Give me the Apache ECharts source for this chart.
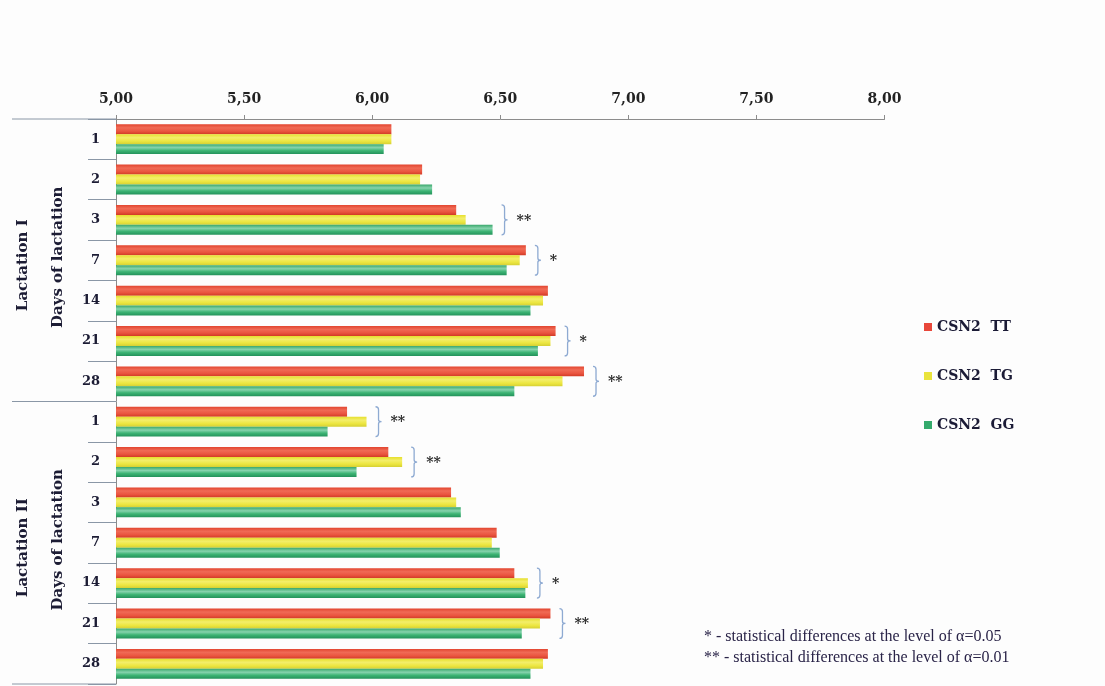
<!DOCTYPE html>
<html>
<head>
<meta charset="utf-8">
<script src="https://cdn.jsdelivr.net/npm/echarts@6/dist/echarts.min.js"></script>
<style>
  html, body { margin: 0; padding: 0; background: #fdfdfd; }
  #chart { width: 1105px; height: 686px; }
</style>
</head>
<body>
<div id="chart"></div>
<script>
// Days of lactation sampled in each lactation
const days = ['1', '2', '3', '7', '14', '21', '28'];
const lactations = ['Lactation I', 'Lactation II'];

// Mean values per genotype, Lactation I days then Lactation II days
const seriesNames = ['CSN2  TT', 'CSN2  TG', 'CSN2  GG'];
const valuesTT = [6.075, 6.195, 6.328, 6.600, 6.686, 6.716, 6.827,
                  5.902, 6.063, 6.308, 6.486, 6.555, 6.696, 6.686];
const valuesTG = [6.075, 6.187, 6.365, 6.576, 6.667, 6.696, 6.743,
                  5.978, 6.117, 6.328, 6.467, 6.608, 6.655, 6.667];
const valuesGG = [6.045, 6.234, 6.470, 6.525, 6.618, 6.647, 6.555,
                  5.826, 5.939, 6.346, 6.498, 6.598, 6.584, 6.618];

// Significance marks: row index (0..13) and marker text
const sigRows  = [2, 3, 5, 6, 7, 8, 11, 12];
const sigMarks = ['**', '*', '*', '**', '**', '**', '*', '**'];

const xTicks = { min: 5, max: 8, interval: 0.5 };

const footnotes = [
  '* - statistical differences at the level of \u03b1=0.05',
  '** - statistical differences at the level of \u03b1=0.01'
];

// ---- layout ----
const G = { left: 116, top: 119, right: 1105 - 884.5, bottom: 2 };
const gridH = 686 - G.top - G.bottom;
const nRows = days.length * lactations.length;
const rowH = gridH / nRows;

const rowKeys = [];
lactations.forEach(l => days.forEach(d => rowKeys.push(l + '|' + d)));

const allSeries = [valuesTT, valuesTG, valuesGG];
const rowMax = i => Math.max(valuesTT[i], valuesTG[i], valuesGG[i]);

function grad(stops) {
  return new echarts.graphic.LinearGradient(0, 0, 0, 1,
    stops.map(s => ({ offset: s[0], color: s[1] })));
}
const fills = [
  grad([[0, '#e2452f'], [0.35, '#f06a55'], [0.7, '#ea5540'], [1, '#d23a26']]),
  grad([[0, '#e6df2c'], [0.35, '#f3ee6a'], [0.7, '#ece640'], [1, '#d6d034']]),
  grad([[0, '#3aa86c'], [0.35, '#86d3ad'], [0.65, '#3db474'], [1, '#23925a']])
];
const solid = ['#e8473a', '#e9e33c', '#34aa6c'];

const serif = 'DejaVu Serif';

const chart = echarts.init(document.getElementById('chart'), null, { renderer: 'canvas' });

const barSeries = seriesNames.map((name, k) => ({
  name: name,
  type: 'bar',
  data: allSeries[k],
  barGap: '0%',
  barCategoryGap: '26%',
  itemStyle: { color: fills[k] },
  silent: true
}));

const bracketSeries = {
  type: 'custom',
  silent: true,
  data: sigRows.map(r => [rowMax(r), r]),
  encode: { x: 0, y: 1 },
  renderItem: function (params, api) {
    const p = api.coord([api.value(0), api.value(1)]);
    const h = rowH * 0.37;
    const x = p[0] + 12, y = p[1];
    const path = 'M' + (x - 3) + ',' + (y - h) +
      ' Q' + x + ',' + (y - h) + ' ' + x + ',' + (y - h + 3) +
      ' L' + x + ',' + (y - 2) +
      ' Q' + x + ',' + y + ' ' + (x + 3) + ',' + y +
      ' Q' + x + ',' + y + ' ' + x + ',' + (y + 2) +
      ' L' + x + ',' + (y + h - 3) +
      ' Q' + x + ',' + (y + h) + ' ' + (x - 3) + ',' + (y + h);
    return {
      type: 'group',
      children: [
        {
          type: 'path',
          shape: { pathData: path },
          style: { stroke: '#8eaad2', lineWidth: 1.3, fill: null }
        },
        {
          type: 'text',
          x: x + 12, y: y + 1,
          style: {
            text: sigMarks[params.dataIndex],
            font: 'bold 14px "' + serif + '"',
            fill: '#2a2a2a',
            textAlign: 'left',
            textVerticalAlign: 'middle'
          }
        }
      ]
    };
  },
  z: 5
};

// separator lines left of the plot between the two lactations
const sepLines = [0, days.length, nRows].map(k => ({
  type: 'line',
  shape: { x1: 12, y1: G.top + k * rowH, x2: G.left, y2: G.top + k * rowH },
  style: { stroke: '#8a97a6', lineWidth: 1 },
  silent: true
}));

const sideTexts = [];
lactations.forEach((l, i) => {
  const cy = G.top + (i * days.length + days.length / 2) * rowH;
  sideTexts.push({
    type: 'text', x: 23, y: cy + 5, rotation: Math.PI / 2,
    style: { text: l, font: 'bold 15px "' + serif + '"', fill: '#1c1c34',
             textAlign: 'center', textVerticalAlign: 'middle' }
  });
  sideTexts.push({
    type: 'text', x: 58, y: cy - 3, rotation: Math.PI / 2,
    style: { text: 'Days of lactation', font: 'bold 15px "' + serif + '"', fill: '#1c1c34',
             textAlign: 'center', textVerticalAlign: 'middle' }
  });
});

const noteTexts = footnotes.map((t, i) => ({
  type: 'text', left: 704, top: 629 + i * 21,
  style: { text: t, font: '16px "Liberation Serif"', fill: '#2a2448' }
}));

chart.setOption({
  backgroundColor: '#fdfdfd',
  animation: false,
  grid: { left: G.left, top: G.top, right: G.right, bottom: G.bottom, containLabel: false },
  xAxis: {
    type: 'value',
    position: 'top',
    min: xTicks.min, max: xTicks.max, interval: xTicks.interval,
    axisLine: { show: true, lineStyle: { color: '#8c8c8c', width: 1 } },
    axisTick: { show: true, length: 4, lineStyle: { color: '#8c8c8c' } },
    splitLine: { show: false },
    axisLabel: {
      margin: 13,
      formatter: v => v.toFixed(2).replace('.', ','),
      fontFamily: serif, fontWeight: 'bold', fontSize: 14, color: '#222'
    }
  },
  yAxis: {
    type: 'category',
    inverse: true,
    data: rowKeys,
    axisLine: { show: true, lineStyle: { color: '#8c8c8c' } },
    axisTick: { show: true, length: 28, interval: 0, alignWithLabel: false,
                lineStyle: { color: '#8a97a6' } },
    axisLabel: {
      interval: 0, margin: 16,
      formatter: v => v.split('|')[1],
      fontFamily: serif, fontWeight: 'bold', fontSize: 13, color: '#1c1c34'
    }
  },
  legend: {
    orient: 'vertical',
    left: 919, top: 315,
    itemWidth: 8, itemHeight: 8, itemGap: 35,
    icon: 'rect',
    data: seriesNames.map((n, k) => ({ name: n, itemStyle: { color: solid[k] } })),
    textStyle: { fontFamily: serif, fontWeight: 'bold', fontSize: 14, color: '#1b1b36', padding: [0, 0, 0, 0] },
    selectedMode: false
  },
  series: barSeries.concat([bracketSeries]),
  graphic: sepLines.concat(sideTexts, noteTexts)
});
</script>
</body>
</html>
